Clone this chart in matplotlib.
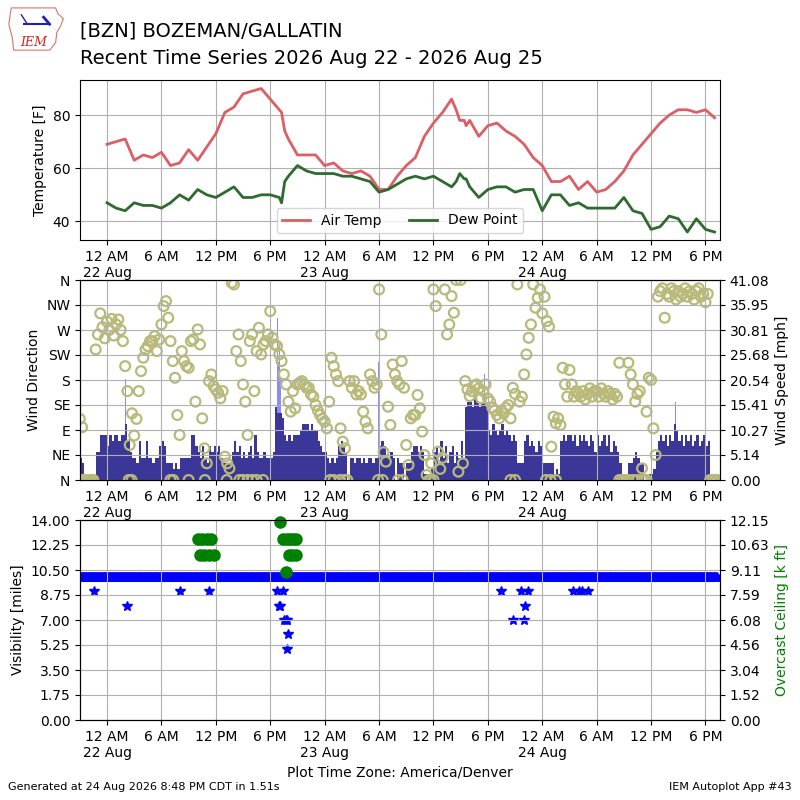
import numpy as np
import matplotlib
matplotlib.use("Agg")
import matplotlib.pyplot as plt

# all times are hours after 2026-08-22 00:00 (America/Denver)
temp_hr = [0, 1, 2, 3, 4, 5, 6, 7, 8, 9, 10, 11, 12, 13, 14, 15, 16, 17, 18,
           19, 19.25, 19.6, 20,
           21, 22, 23, 24, 25, 26, 27, 28, 29, 30, 31, 32, 33, 34, 35, 36, 37, 38,
           38.5, 38.9, 39.4, 39.6,
           40, 41, 42, 43, 44, 45, 46, 47, 48, 49, 50, 51, 52, 53, 54, 55, 56, 57,
           58, 59, 60, 61, 62, 63, 64, 65, 66, 67]
tmpf = [69, 70, 71, 63, 65, 64, 66, 61, 62, 67, 63, 68, 73, 81, 83, 88, 89, 90, 86,
        82, 81, 74, 71,
        65, 65, 65, 61, 62, 59, 58, 59, 57, 52, 52, 57, 61, 64, 72, 77, 81, 86,
        82, 78, 78, 76,
        78, 72, 76, 77, 74, 72, 69, 64, 61, 55, 55, 57, 52, 55, 51, 52, 55, 59,
        65, 69, 73, 77, 80, 82, 82, 81, 82, 79]
dwpf = [47, 45, 44, 47, 46, 46, 45, 47, 50, 48, 52, 50, 49, 51, 53, 49, 49, 50, 50,
        49, 47, 55, 57,
        61, 59, 58, 58, 58, 57, 57, 56, 55, 51, 52, 54, 56, 57, 56, 57, 55, 53,
        55, 58, 56, 56,
        53, 49, 52, 53, 53, 51, 52, 52, 44, 50, 50, 46, 47, 45, 45, 45, 45, 49,
        44, 43, 37, 38, 42, 41, 36, 41, 37, 36]

# 15 minute wind obs starting 21 Aug 21:00
obs_start = -3.0
drct = [
    110, 95, 0, 0,   0, 0, 0, 235,   262, 300, 275, 255,          # -3..-1
    285, 270, 290, 260,   280, 289, 270, 250,   205, 160, 63, 120,  # 0..2
    80, 110, 160, 196,   220, 235, 241, 250,   250, 259, 232, 253,  # 3..5
    280, 313, 322, 292,   250, 214, 184, 117,   81, 232, 214, 205,   # 6..8
    202, 250, 253, 141,   271, 244, 111, 57,   30, 178, 190, 169,    # 9..11
    163, 157, 147, 160,   42, 30, 21, 355,   352, 232, 262, 214,     # 12..14
    172, 141, 81, 250,   262, 160, 232, 274,   226, 244, 250, 262,   # 15..17
    304, 256, 244, 241,   226, 214, 190, 172,   141, 123, 160, 129,  # 18..20
    172, 175, 178, 172,   166, 166, 154, 150,   135, 125, 117, 110,  # 21..23
    105, 93, 141, 220,   205, 190, 178, 93,   69, 57, 0, 178,        # 24..26
    166, 178, 154, 160,   154, 123, 105, 93,   190, 178, 166, 172,   # 27..29
    343, 262, 50, 33,   132, 99, 208, 190,   178, 172, 214, 166,      # 30..32
    63, 27, 111, 117,   117, 153, 129, 87,   45, 9, 0, 30,           # 33..35
    343, 313, 51, 20,   40, 343, 262, 280,   331, 301, 360, 15,      # 36..38
    360, 30, 178, 163,   151, 160, 170, 172,   165, 147, 160, 172,   # 39..41
    147, 141, 130, 125,   117, 111, 125, 120,   130, 135, 111, 166,  # 42..44
    155, 352, 141, 150,   190, 226, 256, 280,   352, 310, 328, 343,  # 45..47
    300, 330, 286, 276,   60, 114, 102, 111,   99, 202, 172, 150,    # 48..50
    198, 172, 150, 160,   155, 150, 160, 145,   155, 165, 150, 160,  # 51..53
    160, 150, 165, 155,   150, 160, 155, 145,   155, 150, 211, 0,    # 54..56
    0, 0, 211, 190,   172, 141, 155, 160,   21, 0, 123, 184,         # 57..59
    180, 93, 45, 330,   340, 345, 292, 335,   330, 345, 340, 325,    # 60..62
    340, 330, 335, 345,   330, 340, 335, 325,   340, 345, 330, 335,  # 63..65
    320, 335, 0, 0,   0, 0]                                          # 66..67
sknt = [
    4, 3, 0, 0,   0, 0, 0, 5,   5, 8, 8, 8,
    6, 8, 7, 8,   8, 7, 8, 8,   10, 7, 5, 4,
    4, 3, 7, 4,   4, 7, 4, 4,   3, 4, 4, 6,
    7, 6, 3, 3,   3, 2, 3, 2,   4, 4, 4, 4,
    4, 8, 8, 6,   5, 4, 6, 4,   3, 6, 5, 6,
    5, 6, 4, 3,   3, 3, 3, 5,   7, 5, 6, 4,
    5, 4, 5, 6,   4, 8, 5, 4,   4, 5, 4, 4,
    4, 5, 13, 12,   12, 11, 8, 7,   8, 7, 8, 8,
    8, 9, 10, 10,   10, 9, 10, 9,   9, 7, 6, 5,
    5, 4, 3, 4,   3, 4, 6, 7,   6, 5, 0, 4,
    4, 3, 4, 4,   3, 4, 3, 4,   4, 3, 4, 4,
    6, 7, 6, 4,   4, 5, 4, 0,   4, 3, 3, 0,
    3, 3, 5, 6,   6, 5, 6, 5,   1, 1, 0, 2,
    5, 6, 3, 7,   4, 6, 3, 5,   6, 3, 5, 4,
    7, 4, 13, 14,   14, 13, 15, 14,   13, 14, 14, 13,
    9, 8, 10, 9,   8, 9, 10, 8,   9, 8, 7, 8,
    7, 3, 3, 3,   7, 8, 6, 7,   6, 5, 7, 6,
    3, 3, 3, 3,   3, 1, 2, 1,   7, 8, 7, 8,
    8, 7, 8, 6,   8, 7, 8, 7,   6, 8, 7, 5,
    8, 6, 7, 8,   6, 8, 5, 7,   6, 5, 3, 0,
    0, 0, 3, 3,   4, 5, 4, 3,   3, 0, 0, 1,
    1, 2, 5, 7,   8, 7, 8, 6,   8, 7, 10, 9,
    7, 8, 6, 8,   7, 8, 6, 7,   8, 6, 7, 8,
    6, 7, 0, 0,   0, 0]

# variable / calm reports plotted at north
vrb_hr = [-2.9, -2.6, -2.3, -2.0, -1.7, 2.4, 2.7, 7.0, 7.3, 9.0, 10.8, 13.2,
          14.6, 15.0, 15.5, 16.0, 16.5, 17.2, 24.6, 25.0, 25.7, 26.2, 29.9,
          30.4, 32.1, 32.6, 35.7, 36.0, 44.5, 45.0, 48.4, 48.9, 49.5, 56.5,
          57.0, 57.5, 58.0, 58.5, 59.0, 59.5, 66.8, 67.2]

gust_hr = [2.0, 9.6, 13.9, 18.8, 18.9, 19.0, 19.1, 19.3, 29.9, 41.6, 62.7]
gust_kt = [18, 27, 27, 29, 21, 24, 18, 16, 21, 19, 14]

# visibility below 10 miles (every other 5 minute report was 10)
lowvis_hr = [-1.4, 2.2, 8.05, 11.2, 18.7, 18.95, 19.05, 19.45, 19.5, 19.7,
             19.85, 19.9, 20.0, 43.5, 44.8, 45.7, 46.0, 46.1, 46.45, 51.4,
             52.0, 52.4, 53.0]
lowvis_mi = [9, 8, 9, 9, 9, 8, 8, 9, 7, 7, 7, 5, 6, 9, 7, 9, 7, 8, 9, 9, 9, 9, 9]

ceil_hr = [10.0, 10.25, 10.5, 10.75, 11.0, 11.25, 11.5, 11.8,
           19.05, 19.4, 19.7, 19.8, 20.1, 20.2, 20.45, 20.5, 20.8, 20.8]
ceil_kft = [11, 10, 11, 10, 11, 10, 11, 10,
            12, 11, 9, 11, 10, 11, 10, 11, 10, 11]

xtick_hr = [0, 6, 12, 18, 24, 30, 36, 42, 48, 54, 60, 66]
xtick_labels = ["12 AM\n22 Aug", "6 AM", "12 PM", "6 PM",
                "12 AM\n23 Aug", "6 AM", "12 PM", "6 PM",
                "12 AM\n24 Aug", "6 AM", "12 PM", "6 PM"]
dir_labels = ["N", "NE", "E", "SE", "S", "SW", "W", "NW", "N"]

obs_hr = obs_start + 0.25 * np.arange(len(drct))
mph = np.array(sknt) * 1.1508
vis_hr = np.arange(-2.95, 67.3, 1 / 12.0)
vis_mi = [10.0] * len(vis_hr)
xlim = (-2.98, 67.6)
spd_top = 41.083
ceil_top = 12.15

fig = plt.figure(figsize=(8, 8), dpi=100)

# --- temperature
ax1 = fig.add_axes([0.1, 0.7, 0.8, 0.2])
ax1.plot(temp_hr, tmpf, color='#dc5f66', lw=2, label='Air Temp')
ax1.plot(temp_hr, dwpf, color='#2f6a2f', lw=2, label='Dew Point')
ax1.set_ylim(33, 93.2)
ax1.set_yticks([40, 60, 80])
ax1.set_ylabel('Temperature [F]')
ax1.grid(True)
ax1.legend(loc='lower center', ncol=2)

# --- wind
ax2 = fig.add_axes([0.1, 0.4, 0.8, 0.25])
ax2b = ax2.twinx()
ax2.set_zorder(ax2b.get_zorder() + 1)
ax2.patch.set_visible(False)
ax2b.bar(gust_hr, np.array(gust_kt) * 1.1508, width=0.09, color='#8c8cf8', linewidth=0)
ax2b.bar(obs_hr, mph, width=0.25, align='edge', color='#3b3799', linewidth=0)
ax2.scatter(obs_hr, drct, s=50, facecolors='none', edgecolors='#b9b97a', linewidths=1.6)
ax2.scatter(vrb_hr, [0] * len(vrb_hr), s=50, facecolors='none', edgecolors='#b9b97a', linewidths=1.6)
ax2.set_ylim(0, 360)
ax2.set_yticks(np.arange(0, 361, 45))
ax2.set_yticklabels(dir_labels)
ax2.set_ylabel('Wind Direction')
ax2.grid(True)
ax2b.set_ylim(0, spd_top)
ax2b.set_yticks(np.linspace(0, spd_top, 9))
ax2b.set_yticklabels(['%.2f' % v for v in np.linspace(0, spd_top, 9)])
ax2b.set_ylabel('Wind Speed [mph]')

# --- visibility / ceiling
ax3 = fig.add_axes([0.1, 0.1, 0.8, 0.25])
ax3.plot(vis_hr, vis_mi, '*', color='blue', ms=7, ls='none', zorder=1)
ax3.plot(lowvis_hr, lowvis_mi, '*', color='blue', ms=7, ls='none', zorder=1)
ax3.set_ylim(0, 14)
ax3.set_yticks(np.linspace(0, 14, 9))
ax3.set_yticklabels(['%.2f' % v for v in np.linspace(0, 14, 9)])
ax3.set_ylabel('Visibility [miles]')
ax3.grid(True, zorder=3)
ax3b = ax3.twinx()
ax3b.plot(ceil_hr, ceil_kft, 'o', color='green', ms=8, ls='none', clip_on=False)
ax3b.set_ylim(0, ceil_top)
ax3b.set_yticks(np.linspace(0, ceil_top, 9))
ax3b.set_yticklabels(['%.2f' % v for v in np.linspace(0, ceil_top, 9)])
ax3b.set_ylabel('Overcast Ceiling [k ft]', color='green')

for ax in (ax1, ax2, ax3):
    ax.set_xlim(*xlim)
    ax.set_xticks(xtick_hr)
    ax.set_xticklabels(xtick_labels)

# --- header / footer
logo = fig.add_axes([0.008, 0.935, 0.075, 0.058])
logo.axis('off')
logo.set_xlim(0, 1)
logo.set_ylim(0, 1)
iowa = [(0.08, 0.95), (0.82, 0.95), (0.86, 0.82), (0.95, 0.72), (0.9, 0.55),
        (0.84, 0.42), (0.82, 0.2), (0.72, 0.04), (0.12, 0.04), (0.1, 0.3), (0.04, 0.6)]
logo.add_patch(plt.Polygon(iowa, closed=True, fill=False, edgecolor='#e07070', lw=0.8))
logo.plot([0.3, 0.7], [0.6, 0.6], color='#2020c0', lw=1.5)
logo.plot([0.25, 0.35], [0.8, 0.6], color='#2020c0', lw=1)
logo.plot([0.62, 0.72], [0.75, 0.6], color='#2020c0', lw=2)
logo.text(0.45, 0.12, 'IEM', color='#d02020', fontsize=9, style='italic',
          family='DejaVu Serif', ha='center')

fig.text(0.1, 0.954, '[BZN] BOZEMAN/GALLATIN', fontsize=14, va='baseline')
fig.text(0.1, 0.9196, 'Recent Time Series 2026 Aug 22 - 2026 Aug 25', fontsize=14, va='baseline')
fig.text(0.5, 0.034, 'Plot Time Zone: America/Denver', fontsize=10, ha='center', va='center')
fig.text(0.01, 0.012, 'Generated at 24 Aug 2026 8:48 PM CDT in 1.51s', fontsize=8)
fig.text(0.99, 0.012, 'IEM Autoplot App #43', fontsize=8, ha='right')

fig.savefig('out.png', dpi=100)
